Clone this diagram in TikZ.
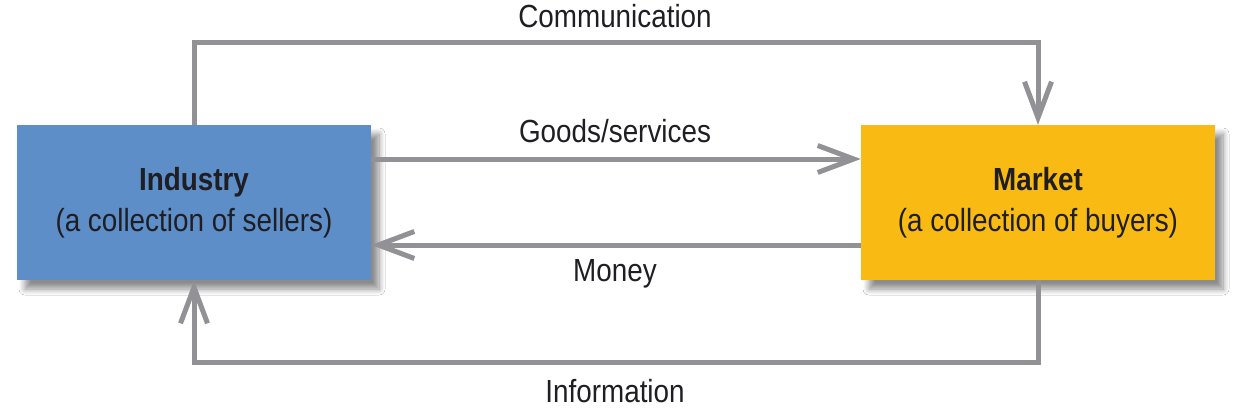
\documentclass[tikz,border=0pt]{standalone}
\usepackage{fontspec}
\setmainfont[FakeStretch=0.87]{Liberation Sans}
\usetikzlibrary{arrows.meta,shadows.blur}
\definecolor{indblue}{RGB}{94,142,200}
\definecolor{mktyellow}{RGB}{249,186,20}
\definecolor{flowgray}{RGB}{146,146,150}
\definecolor{txt}{RGB}{30,30,35}
\tikzset{
  box/.style={minimum width=354pt, minimum height=155pt, inner sep=0pt, align=center,
    font=\fontsize{32}{41}\selectfont, text=txt,
    blur shadow={shadow xshift=8pt, shadow yshift=-9pt, shadow blur steps=10, shadow blur radius=6pt, shadow opacity=45}},
  flow/.style={draw=flowgray, line width=5pt, -{Straight Barb[length=36pt,width=27pt,line width=5pt]}},
  lbl/.style={font=\fontsize{32}{36}\selectfont, text=txt, inner sep=0pt}
}
\begin{document}
\begin{tikzpicture}[x=1pt,y=-1pt]
\useasboundingbox[fill=white] (0,0) rectangle (1246,416);
\node[box, fill=indblue] (ind) at (194,202.5) {\textbf{Industry}\\(a collection of sellers)};
\node[box, fill=mktyellow] (mkt) at (1038,202.5) {\textbf{Market}\\(a collection of buyers)};
\coordinate (c1) at (194,42);
\coordinate (c2) at (1038,42);
\coordinate (i1) at (1038,362);
\coordinate (i2) at (194,362);
\draw[flow] (ind.north) -- (c1) -- (c2) -- (mkt.north);
\draw[flow] (ind.east |- 0,159) -- (mkt.west |- 0,159);
\draw[flow] (mkt.west |- 0,245) -- (ind.east |- 0,245);
\draw[flow] (mkt.south) -- (i1) -- (i2) -- (ind.south);
\node[lbl] (lc) at (615,16) {Communication};
\node[lbl] (lg) at (615,131) {Goods/services};
\node[lbl] (lm) at (615,274) {Money};
\node[lbl] (li) at (615,391) {Information};
\end{tikzpicture}
\end{document}
